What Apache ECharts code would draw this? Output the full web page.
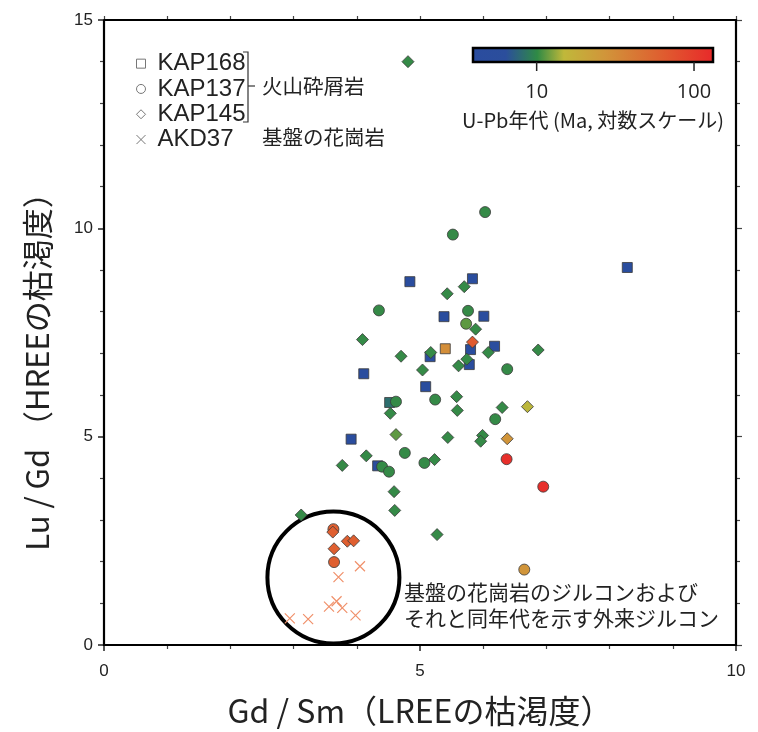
<!DOCTYPE html>
<html>
<head>
    <meta charset="utf-8">
    <title>Lu/Gd vs Gd/Sm</title>
    <script src="https://cdn.jsdelivr.net/npm/echarts@6/dist/echarts.min.js"></script>
    <style>
        html, body {margin: 0; padding: 0; background: #fff;}
        #main {width: 758px; height: 732px;}
    </style>
</head>
<body>
<div id="main"></div>
<script type="text/javascript">

    // KAP168 (四角)
    var kap168Gd  = [4.84, 5.83, 5.38, 6.01, 5.40, 5.80, 6.18, 5.16, 5.78, 4.11, 5.09, 4.52, 3.91, 4.33, 8.28];
    var kap168Lu  = [8.72, 8.79, 7.88, 7.89, 7.11, 7.09, 7.17, 6.92, 6.73, 6.51, 6.20, 5.82, 4.94, 4.30, 9.06];
    var kap168Age = [4.7, 4.7, 4.7, 4.7, 30, 4.7, 4.7, 4.7, 4.7, 4.7, 4.7, 8.2, 4.7, 4.7, 4.7];

    // KAP137 (丸)
    var kap137Gd  = [6.03, 5.52, 4.35, 5.76, 5.73, 6.38, 4.62, 5.24, 6.19, 6.37, 6.95, 4.76, 4.40, 4.51, 5.07, 6.65, 3.63, 3.64];
    var kap137Lu  = [10.39, 9.85, 8.03, 8.02, 7.71, 6.62, 5.84, 5.89, 5.42, 4.46, 3.80, 4.61, 4.28, 4.16, 4.37, 1.81, 2.78, 1.99];
    var kap137Age = [10.2, 10.2, 10.2, 10.2, 11.5, 10.2, 10.2, 10.2, 10.2, 119, 119, 10.2, 10.2, 10.2, 10.2, 27, 61, 61];

    // KAP145 (ひし形)
    var kap145Gd  = [4.81, 5.70, 5.43, 5.88, 4.09, 5.83, 6.08, 6.87, 4.70, 5.17, 5.74, 5.61, 5.04, 5.58, 4.53, 5.59, 6.30,
                     6.70, 4.62, 5.44, 5.99, 5.96, 6.38, 4.15, 3.77, 5.23, 4.59, 4.60, 3.12, 5.27, 3.62, 3.85, 3.95, 3.64];
    var kap145Lu  = [14.0, 8.60, 8.43, 7.58, 7.33, 7.27, 7.02, 7.08, 6.93, 7.02, 6.86, 6.70, 6.60, 5.96, 5.56, 5.63, 5.70,
                     5.72, 5.05, 4.98, 5.03, 4.89, 4.95, 4.54, 4.31, 4.45, 3.68, 3.23, 3.12, 2.65, 2.71, 2.49, 2.50, 2.31];
    var kap145Age = [10.2, 10.2, 10.2, 10.2, 10.2, 65, 10.2, 10.2, 10.2, 10.2, 10.2, 10.2, 10.2, 10.2, 10.2, 10.2, 10.2,
                     15, 11.5, 10.2, 10.2, 10.2, 27, 10.2, 10.2, 10.2, 10.2, 10.2, 10.2, 10.2, 61, 61, 61, 61];

    // AKD37 (×)
    var akd37Gd = [4.05, 3.71, 3.68, 3.56, 3.77, 3.98, 2.94, 3.23];
    var akd37Lu = [1.89, 1.63, 1.05, 0.92, 0.89, 0.71, 0.64, 0.62];

    // カラーバー (U-Pb年代, 対数)
    var cbarMinAge = 3.94;
    var cbarMaxAge = 132;
    var cbarTicks = [10, 100];
    var cbarStops = [[0, '#2a4c9f'], [0.14, '#2b4e9c'], [0.27, '#2f8a45'], [0.38, '#c0b83a'],
                     [0.55, '#d1953a'], [0.8, '#e05a2f'], [1, '#e8282a']];

    var xTicks = [0, 10, 5];   // min, max, interval
    var yTicks = [0, 15, 5];

    var circleCenter = [3.63, 1.62];

    var crossPath = 'path://M0,0L10,10M10,0L0,10';
    var jpFont = '"Noto Sans CJK JP", "Noto Sans", sans-serif';

    function toPoints(gd, lu, age) {
        return gd.map(function (g, i) {
            return [g, lu[i], age ? Math.log10(age[i]) : 0];
        });
    }

    function hex(c) {
        return [parseInt(c.substr(1, 2), 16), parseInt(c.substr(3, 2), 16), parseInt(c.substr(5, 2), 16)];
    }
    function sampleStops(n) {
        var out = [];
        for (var k = 0; k < n; k++) {
            var t = k / (n - 1);
            var j = 0;
            while (j < cbarStops.length - 2 && t > cbarStops[j + 1][0]) j++;
            var a = cbarStops[j], b = cbarStops[j + 1];
            var f = (t - a[0]) / (b[0] - a[0]);
            var ca = hex(a[1]), cb = hex(b[1]);
            out.push('rgb(' + ca.map(function (v, m) { return Math.round(v + (cb[m] - v) * f); }).join(',') + ')');
        }
        return out;
    }

    var myChart = echarts.init(document.getElementById('main'));

    var axisLine = {show: true, onZero: false, lineStyle: {color: '#111', width: 2}};
    var markStyle = {borderColor: '#3a3a3a', borderWidth: 0.8, opacity: 1};

    var option = {
        backgroundColor: '#fff',
        animation: false,
        grid: {left: 104, right: 22, top: 20, bottom: 81},
        xAxis: [{
            type: 'value', min: xTicks[0], max: xTicks[1], interval: xTicks[2],
            axisLine: axisLine,
            axisTick: {show: true, length: 6, lineStyle: {color: '#222', width: 1.5}},
            minorTick: {show: true, splitNumber: 5, length: 4, lineStyle: {color: '#444', width: 1.2}},
            splitLine: {show: false},
            axisLabel: {fontFamily: 'Liberation Sans', fontSize: 17, color: '#222', margin: 18},
            name: 'Gd / Sm（LREEの枯渇度）',
            nameLocation: 'middle', nameGap: 50,
            nameTextStyle: {fontFamily: jpFont, fontSize: 32, color: '#222'}
        }, {
            type: 'value', position: 'top', min: xTicks[0], max: xTicks[1], interval: xTicks[2],
            axisLine: axisLine,
            axisTick: {show: true, length: 4, lineStyle: {color: '#444', width: 1.2}},
            minorTick: {show: true, splitNumber: 5, length: 4, lineStyle: {color: '#444', width: 1.2}},
            splitLine: {show: false},
            axisLabel: {show: false}
        }],
        yAxis: [{
            type: 'value', min: yTicks[0], max: yTicks[1], interval: yTicks[2],
            axisLine: axisLine,
            axisTick: {show: true, length: 6, lineStyle: {color: '#222', width: 1.5}},
            minorTick: {show: true, splitNumber: 5, length: 4, lineStyle: {color: '#444', width: 1.2}},
            splitLine: {show: false},
            axisLabel: {fontFamily: 'Liberation Sans', fontSize: 17, color: '#222', margin: 11}
        }, {
            type: 'value', position: 'right', min: yTicks[0], max: yTicks[1], interval: yTicks[2],
            axisLine: axisLine,
            axisTick: {show: true, length: 6, lineStyle: {color: '#444', width: 1.2}},
            minorTick: {show: true, splitNumber: 5, length: 4, lineStyle: {color: '#444', width: 1.2}},
            splitLine: {show: false},
            axisLabel: {show: false}
        }],
        visualMap: {
            show: false, type: 'continuous', dimension: 2, seriesIndex: [0, 1, 2],
            min: Math.log10(cbarMinAge), max: Math.log10(cbarMaxAge),
            inRange: {color: sampleStops(41)}
        },
        legend: {
            orient: 'vertical', left: 131, top: 46, selectedMode: false,
            itemWidth: 9, itemHeight: 9, itemGap: 0,
            data: ['KAP168', 'KAP137', 'KAP145', 'AKD37'],
            itemStyle: {color: 'transparent', borderColor: '#777', borderWidth: 1},
            textStyle: {fontFamily: 'Liberation Sans', fontSize: 24, color: '#222', lineHeight: 25.3, padding: [0, 0, 0, 7]}
        },
        series: [{
            name: 'KAP168', type: 'scatter', symbol: 'rect', symbolSize: 10,
            itemStyle: markStyle,
            data: toPoints(kap168Gd, kap168Lu, kap168Age)
        }, {
            name: 'KAP137', type: 'scatter', symbol: 'circle', symbolSize: 11,
            itemStyle: markStyle,
            data: toPoints(kap137Gd, kap137Lu, kap137Age)
        }, {
            name: 'KAP145', type: 'scatter', symbol: 'diamond', symbolSize: 12,
            itemStyle: markStyle,
            data: toPoints(kap145Gd, kap145Lu, kap145Age)
        }, {
            name: 'AKD37', type: 'scatter', symbol: crossPath, symbolSize: 10,
            itemStyle: {color: '#f0906a', borderColor: '#f0906a', borderWidth: 1.2, opacity: 1},
            data: toPoints(akd37Gd, akd37Lu)
        }]
    };

    myChart.setOption(option);

    // 枠、カラーバー、凡例の括弧、注記
    var cbarX = 473, cbarY = 48, cbarW = 240, cbarH = 14;
    function cbarPos(age) {
        var lo = Math.log10(cbarMinAge), hi = Math.log10(cbarMaxAge);
        return cbarX + (Math.log10(age) - lo) / (hi - lo) * cbarW;
    }
    var c = myChart.convertToPixel({gridIndex: 0}, circleCenter);
    var tl = myChart.convertToPixel({gridIndex: 0}, [xTicks[0], yTicks[1]]);
    var br = myChart.convertToPixel({gridIndex: 0}, [xTicks[1], yTicks[0]]);

    var graphics = [
        {type: 'polyline', shape: {points: [[tl[0], tl[1]], [br[0], tl[1]], [br[0], br[1]], [tl[0], br[1]], [tl[0], tl[1]]]},
            style: {fill: 'none', stroke: '#000', lineWidth: 2.2}, z: 10},
        {type: 'circle', shape: {cx: c[0], cy: c[1], r: 66}, style: {fill: 'none', stroke: '#000', lineWidth: 4}, z: 1},
        {type: 'text', x: 404, y: 605, style: {text: '基盤の花崗岩のジルコンおよび\nそれと同年代を示す外来ジルコン',
            font: '21px ' + jpFont, fill: '#222', lineHeight: 26, textVerticalAlign: 'middle'}},
        {type: 'text', x: 37, y: 364, rotation: Math.PI / 2,
            style: {text: 'Lu / Gd （HREEの枯渇度）', font: '31px ' + jpFont, fill: '#222', textAlign: 'center', textVerticalAlign: 'middle'}},
        // 括弧
        {type: 'polyline', shape: {points: [[243, 52], [248, 52], [248, 122], [243, 122]]}, style: {stroke: '#333', lineWidth: 1.2, fill: 'none'}},
        {type: 'line', shape: {x1: 248, y1: 86, x2: 255, y2: 86}, style: {stroke: '#333', lineWidth: 1.2}},
        {type: 'text', x: 262, y: 86, style: {text: '火山砕屑岩', font: '20.5px ' + jpFont, fill: '#222', textVerticalAlign: 'middle'}},
        {type: 'text', x: 262, y: 137, style: {text: '基盤の花崗岩', font: '20.5px ' + jpFont, fill: '#222', textVerticalAlign: 'middle'}},
        // カラーバー
        {type: 'rect', shape: {x: cbarX, y: cbarY, width: cbarW, height: cbarH},
            style: {fill: new echarts.graphic.LinearGradient(0, 0, 1, 0, cbarStops.map(function (s) {
                return {offset: s[0], color: s[1]};
            })), stroke: '#000', lineWidth: 2.5}},
        {type: 'text', x: 593, y: 120, style: {text: 'U-Pb年代 (Ma, 対数スケール)', font: '20px ' + jpFont,
            fill: '#222', textAlign: 'center', textVerticalAlign: 'middle'}}
    ];
    cbarTicks.forEach(function (t) {
        var px = cbarPos(t);
        graphics.push({type: 'line', shape: {x1: px, y1: cbarY + cbarH, x2: px, y2: cbarY + cbarH + 9}, style: {stroke: '#222', lineWidth: 1.5}});
        graphics.push({type: 'text', x: px, y: 92, style: {text: String(t), font: '20px "Open Sans", sans-serif',
            fill: '#222', textAlign: 'center', textVerticalAlign: 'middle'}});
    });

    myChart.setOption({graphic: graphics});
</script>
</body>
</html>
